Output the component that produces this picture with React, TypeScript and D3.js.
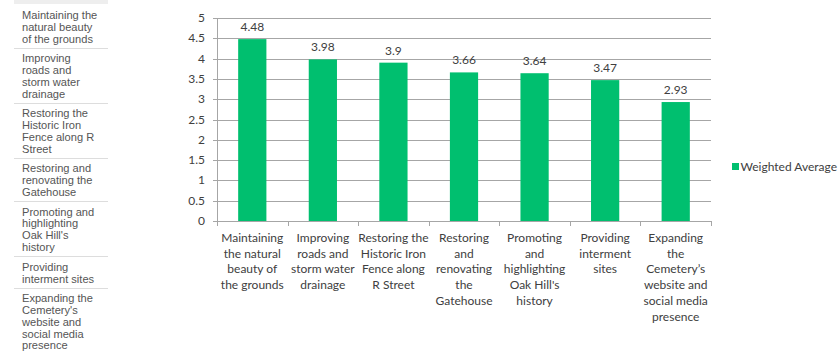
import React from "react";
import * as d3 from "d3";

// Survey priorities and their weighted average scores
const categories = [
  ["Maintaining", "the natural", "beauty of", "the grounds"],
  ["Improving", "roads and", "storm water", "drainage"],
  ["Restoring the", "Historic Iron", "Fence along", "R Street"],
  ["Restoring", "and", "renovating", "the", "Gatehouse"],
  ["Promoting", "and", "highlighting", "Oak Hill's", "history"],
  ["Providing", "interment", "sites"],
  ["Expanding", "the", "Cemetery\u2019s", "website and", "social media", "presence"],
];
const values = [4.48, 3.98, 3.9, 3.66, 3.64, 3.47, 2.93];
const yTicks = [0, 0.5, 1, 1.5, 2, 2.5, 3, 3.5, 4, 4.5, 5];
const seriesName = "Weighted Average";

// Side list of the same priorities
const sideRows = [
  ["Maintaining the", "natural beauty", "of the grounds"],
  ["Improving", "roads and", "storm water", "drainage"],
  ["Restoring the", "Historic Iron", "Fence along R", "Street"],
  ["Restoring and", "renovating the", "Gatehouse"],
  ["Promoting and", "highlighting", "Oak Hill's", "history"],
  ["Providing", "interment sites"],
  ["Expanding the", "Cemetery's", "website and", "social media", "presence"],
];

const W = 840;
const H = 354;
const plot = { left: 217, right: 711, top: 18, bottom: 221 };
const chartFont = "Lato, 'Open Sans', sans-serif";
const barColor = "#00bf6f";

export default function App() {
  const x = d3
    .scaleBand<number>()
    .domain(values.map((_, i) => i))
    .range([plot.left, plot.right])
    .paddingInner(0)
    .paddingOuter(0);
  const y = d3.scaleLinear().domain([0, 5]).range([plot.bottom, plot.top]);
  const barW = x.bandwidth() * 0.4;

  // Side list layout: separator, then wrapped lines, then the next separator
  const lineH = 11.75;
  const padTop = 10.5;
  const padBottom = 9.3;
  let sepY = 4.5;
  const rows = sideRows.map((lines, i) => {
    const firstCenter = sepY + padTop;
    const nextSep = firstCenter + (lines.length - 1) * lineH + padBottom;
    const row = { lines, firstCenter, sep: i < sideRows.length - 1 ? nextSep : null };
    sepY = nextSep;
    return row;
  });

  return (
    <svg
      width={W}
      height={H}
      style={{ position: "absolute", left: 0, top: 0, background: "#fff" }}
    >
      {/* side list */}
      <rect x={14} y={0} width={94} height={4} fill="#eeeeee" />
      {rows.map((r, i) => (
        <g key={i}>
          {r.lines.map((t, j) => (
            <text
              key={j}
              x={22}
              y={r.firstCenter + j * lineH + 4}
              fontFamily="'Liberation Sans', Arial, sans-serif"
              fontSize={11.1}
              fill="#555"
            >
              {t}
            </text>
          ))}
          {r.sep !== null && (
            <line
              x1={14}
              x2={108}
              y1={Math.round(r.sep) + 0.5}
              y2={Math.round(r.sep) + 0.5}
              stroke="#dddddd"
              strokeWidth={1}
            />
          )}
        </g>
      ))}

      {/* gridlines */}
      {yTicks.map((t) => (
        <line
          key={t}
          x1={plot.left - 4}
          x2={t === 0 ? plot.left : plot.right}
          y1={Math.round(y(t)) + 0.5}
          y2={Math.round(y(t)) + 0.5}
          stroke="#a6a6a6"
          strokeWidth={1}
        />
      ))}
      {/* y axis line */}
      <line
        x1={plot.left + 0.5}
        x2={plot.left + 0.5}
        y1={plot.top}
        y2={plot.bottom + 1}
        stroke="#a6a6a6"
      />
      {yTicks.map((t) => (
        <text
          key={t}
          x={205}
          y={y(t) + 4}
          textAnchor="end"
          fontFamily={chartFont}
          fontSize={12}
          fill="#404040"
        >
          {t}
        </text>
      ))}

      {/* bars */}
      {values.map((v, i) => (
        <g key={i}>
          <rect
            x={(x(i) as number) + (x.bandwidth() - barW) / 2}
            y={y(v)}
            width={barW}
            height={y(0) - y(v)}
            fill={barColor}
          />
          <text
            x={(x(i) as number) + x.bandwidth() / 2}
            y={y(v) - 8}
            textAnchor="middle"
            fontFamily={chartFont}
            fontSize={12}
            fill="#404040"
          >
            {v}
          </text>
        </g>
      ))}

      {/* x axis */}
      <line
        x1={plot.left}
        x2={plot.right}
        y1={Math.round(y(0)) + 0.5}
        y2={Math.round(y(0)) + 0.5}
        stroke="#a6a6a6"
      />
      {d3.range(values.length + 1).map((i) => {
        const xx = Math.round(plot.left + i * x.step()) + 0.5;
        return (
          <line
            key={i}
            x1={xx}
            x2={xx}
            y1={plot.bottom}
            y2={plot.bottom + 5}
            stroke="#a6a6a6"
          />
        );
      })}
      {categories.map((lines, i) => (
        <text
          key={i}
          textAnchor="middle"
          fontFamily={chartFont}
          fontSize={12}
          fill="#404040"
        >
          {lines.map((l, j) => (
            <tspan
              key={j}
              x={(x(i) as number) + x.bandwidth() / 2}
              y={242 + j * 15.7}
            >
              {l}
            </tspan>
          ))}
        </text>
      ))}

      {/* legend */}
      <rect x={732} y={163} width={7} height={7} fill={barColor} />
      <text x={740.5} y={170.5} fontFamily={chartFont} fontSize={12} fill="#404040">
        {seriesName}
      </text>
    </svg>
  );
}
